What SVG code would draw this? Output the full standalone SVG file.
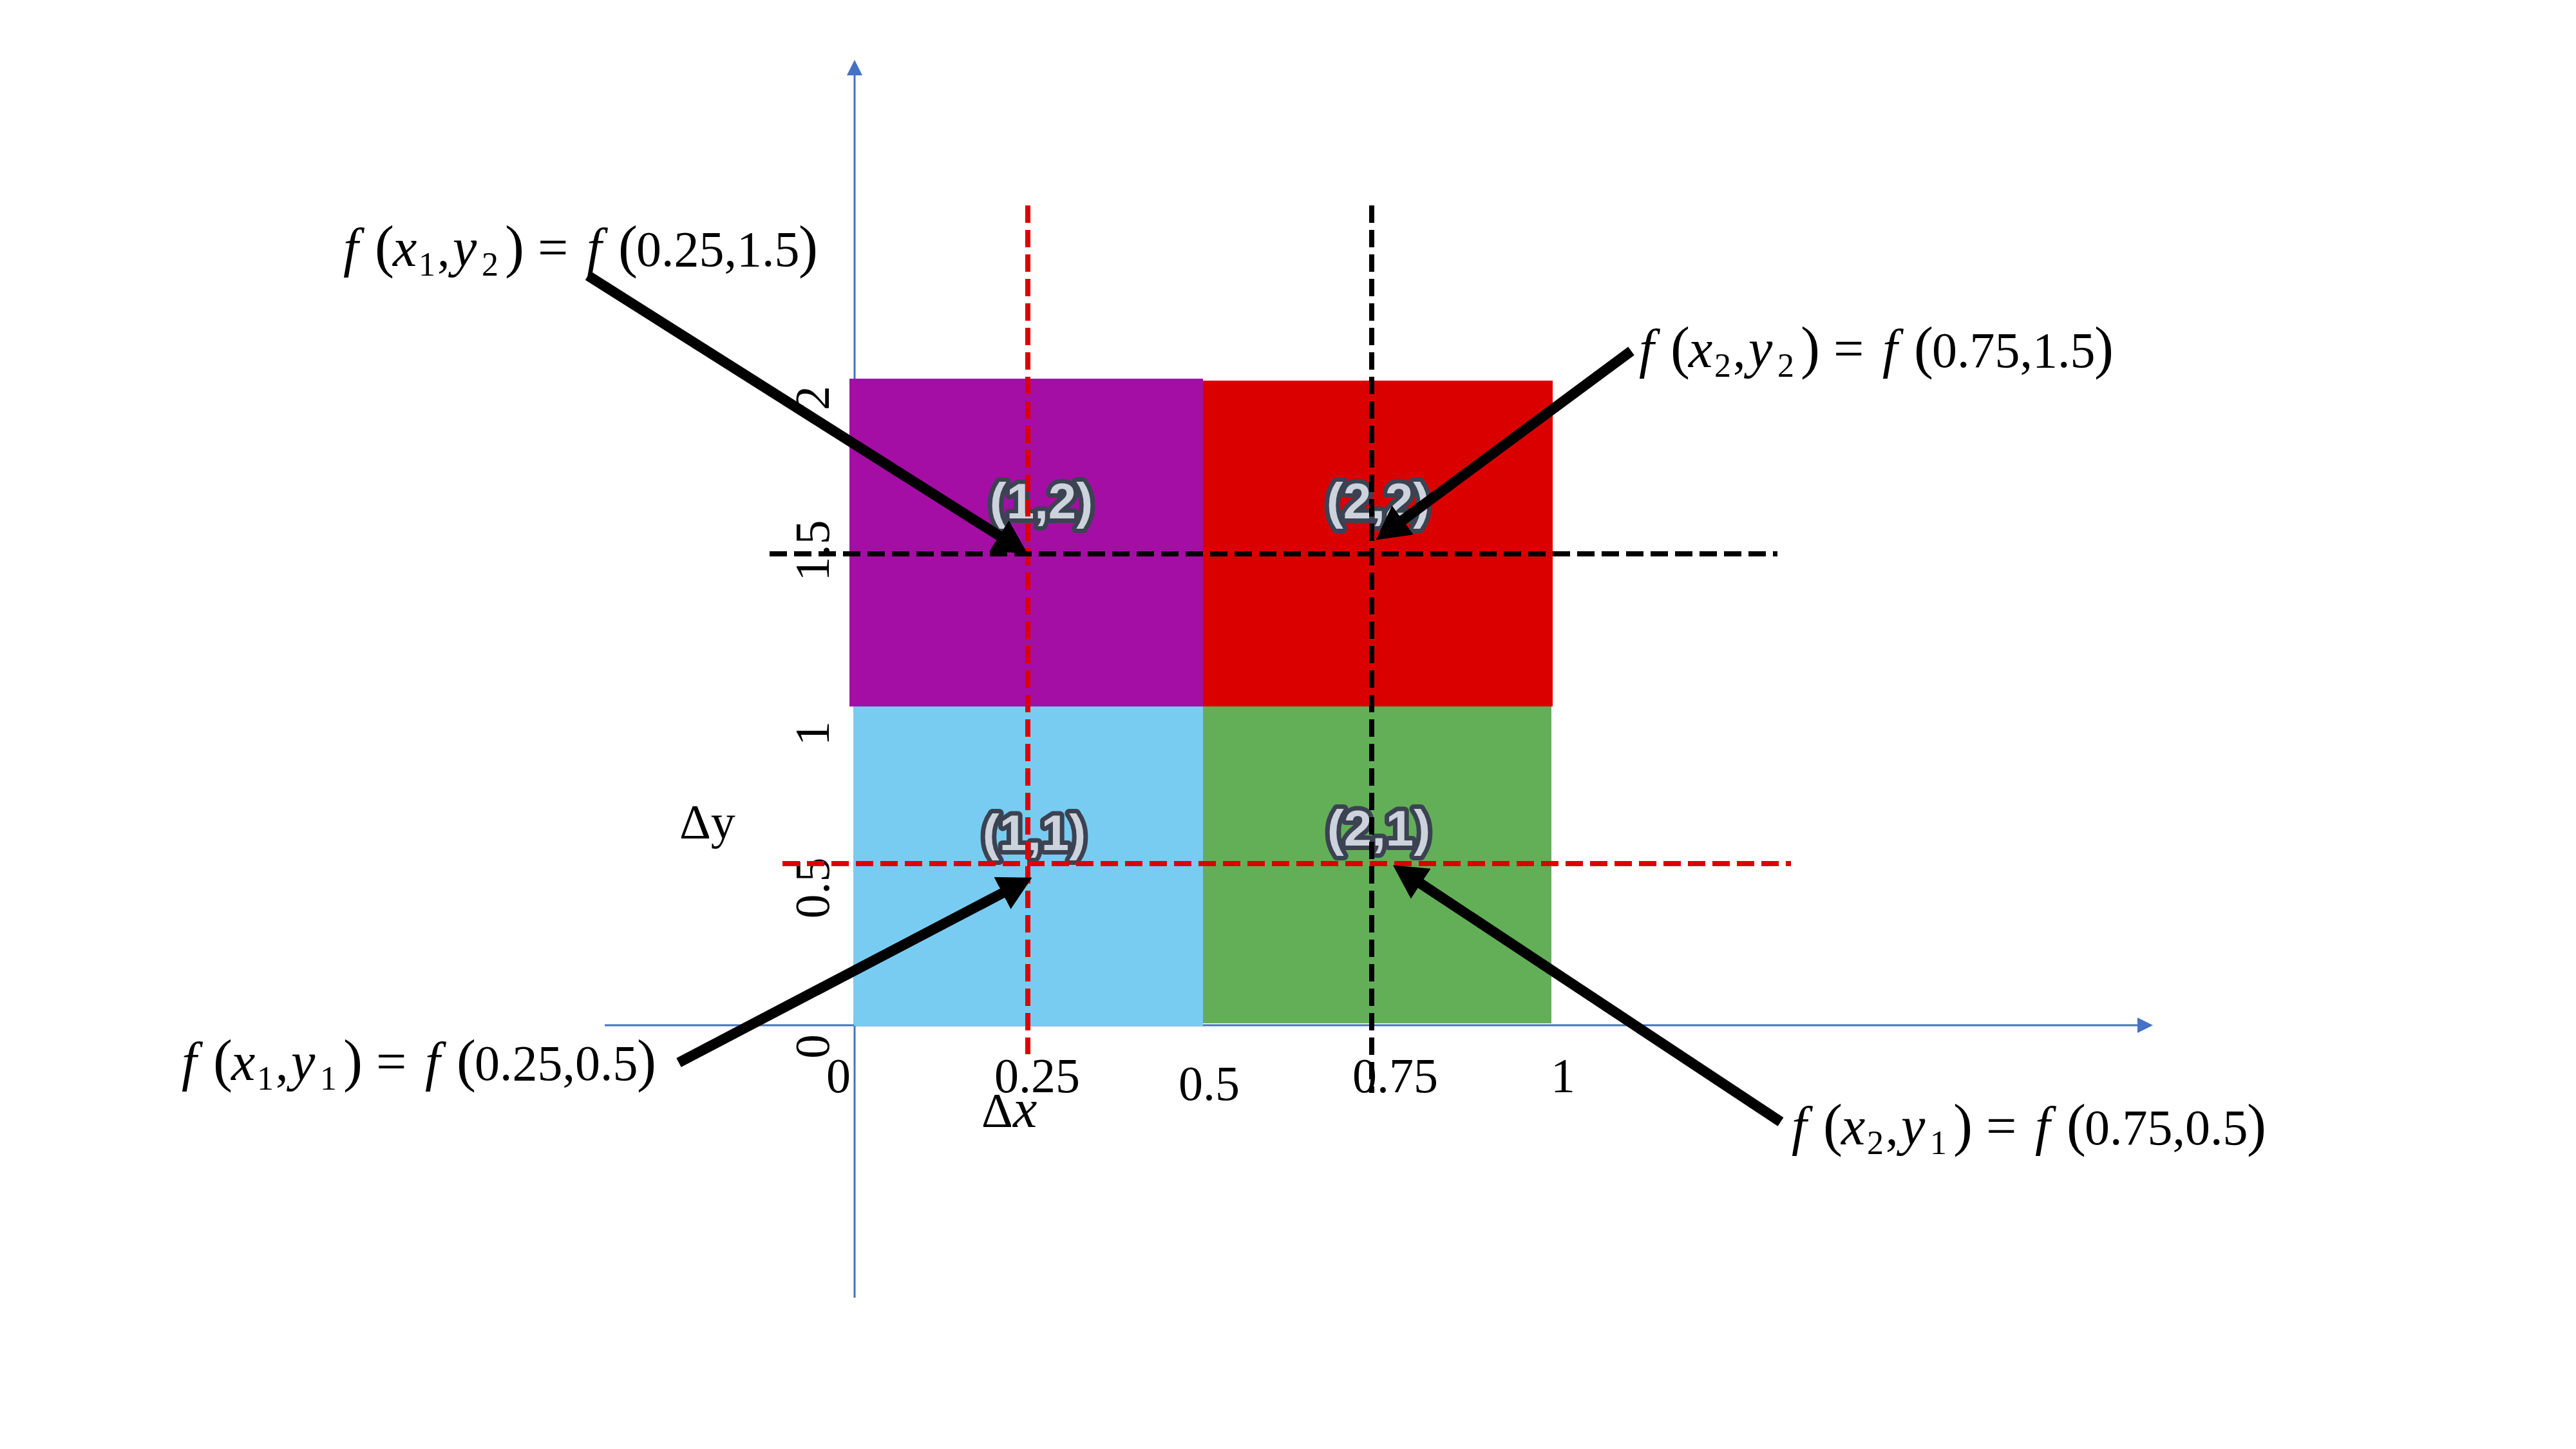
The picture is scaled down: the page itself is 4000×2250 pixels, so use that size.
<svg xmlns="http://www.w3.org/2000/svg" width="4000" height="2250" viewBox="0 0 4000 2250">
<defs>
<style>
.m{font-family:"Liberation Serif",serif;font-size:78px;fill:#000}
.i{font-style:italic;font-size:84px}
.p{font-size:90px}
.e{font-size:84px}
.s{font-size:52px}
.t{font-family:"Liberation Serif",serif;font-size:76px;fill:#000}
.c{font-family:"Liberation Sans",Arial,sans-serif;font-weight:bold;font-size:78px;text-anchor:middle;fill:#CDD3DC;stroke:#3B4352;stroke-width:14;stroke-linejoin:round;paint-order:stroke}
.ax{stroke:#4472C4;stroke-width:3;fill:none}
.dr{stroke:#DD0000;stroke-width:8;stroke-dasharray:27 11;fill:none}
.dk{stroke:#000;stroke-width:8;stroke-dasharray:27 11;fill:none}
.ar{stroke:#000;stroke-width:16;fill:none;marker-end:url(#ah)}
</style>
<marker id="ah" markerUnits="userSpaceOnUse" markerWidth="52" markerHeight="56" refX="4" refY="28" orient="auto" viewBox="0 0 52 56">
<path d="M0,0 L52,28 L0,56 Z" fill="#000"/>
</marker>
</defs>
<rect width="4000" height="2250" fill="#fff"/>

<g id="axes">
<line class="ax" x1="1327" y1="115" x2="1327" y2="2015"/>
<polygon points="1327,93 1315,117 1339,117" fill="#4472C4"/>
<line class="ax" x1="939" y1="1592" x2="3321" y2="1592"/>
<polygon points="3343,1592 3319,1580 3319,1604" fill="#4472C4"/>
</g>

<g id="cells">
<rect id="cell-1-2" x="1319" y="588" width="549" height="509" fill="#A50EA5"/>
<rect id="cell-2-2" x="1868" y="591" width="543" height="506" fill="#DB0000"/>
<rect id="cell-1-1" x="1326" y="1097" width="542" height="496" fill="#79CCF1"/>
<rect id="cell-2-1" x="1868" y="1097" width="541" height="492" fill="#63AF58"/>
</g>

<g id="cell-labels">
<text class="c" x="1617" y="805">(1,2)</text>
<text class="c" x="2140" y="805">(2,2)</text>
<text class="c" x="1606" y="1320">(1,1)</text>
<text class="c" x="2141" y="1313">(2,1)</text>
</g>

<g id="ticks">
<text class="t" x="1283" y="1696">0</text>
<text class="t" x="1544" y="1696">0.25</text>
<text class="t" x="1830" y="1708">0.5</text>
<text class="t" x="2100" y="1696">0.75</text>
<text class="t" x="2408" y="1696">1</text>
<text class="t" x="1287" y="1625" text-anchor="middle" transform="rotate(-90 1287 1625)">0</text>
<text class="t" x="1287" y="1379" text-anchor="middle" transform="rotate(-90 1287 1379)">0.5</text>
<text class="t" x="1287" y="1139" text-anchor="middle" transform="rotate(-90 1287 1139)">1</text>
<text class="t" x="1287" y="855" text-anchor="middle" transform="rotate(-90 1287 855)">1.5</text>
<text class="t" x="1287" y="618" text-anchor="middle" transform="rotate(-90 1287 618)">2</text>
<text class="t" x="1055" y="1302">Δy</text>
<text class="t" x="1524" y="1750">Δ<tspan class="i">x</tspan></text>
</g>

<g id="guides">
<line class="dr" x1="1596" y1="319" x2="1596" y2="1637"/>
<line class="dk" x1="2130" y1="319" x2="2130" y2="1697"/>
<line class="dk" x1="1195" y1="860" x2="2760" y2="860"/>
<line class="dr" x1="1215" y1="1341" x2="2781" y2="1341"/>
</g>

<g id="formula-x1y2">
<text class="m" y="413"><tspan class="i" x="533">f</tspan><tspan class="p" x="582">(</tspan><tspan class="i" x="610">x</tspan><tspan class="s" x="650" y="428">1</tspan><tspan x="679" y="413">,</tspan><tspan class="i" x="703">y</tspan><tspan class="s" x="748" y="428">2</tspan><tspan class="p" x="784" y="413">)</tspan><tspan class="e" x="835">=</tspan><tspan class="i" x="911">f</tspan><tspan class="p" x="960">(</tspan><tspan x="988">0.25,1.5</tspan><tspan class="p" x="1240">)</tspan></text>
</g>
<g id="formula-x2y2">
<text class="m" y="570"><tspan class="i" x="2545">f</tspan><tspan class="p" x="2594">(</tspan><tspan class="i" x="2622">x</tspan><tspan class="s" x="2662" y="585">2</tspan><tspan x="2691" y="570">,</tspan><tspan class="i" x="2715">y</tspan><tspan class="s" x="2760" y="585">2</tspan><tspan class="p" x="2796" y="570">)</tspan><tspan class="e" x="2847">=</tspan><tspan class="i" x="2923">f</tspan><tspan class="p" x="2972">(</tspan><tspan x="3000">0.75,1.5</tspan><tspan class="p" x="3252">)</tspan></text>
</g>
<g id="formula-x1y1">
<text class="m" y="1677"><tspan class="i" x="282">f</tspan><tspan class="p" x="331">(</tspan><tspan class="i" x="359">x</tspan><tspan class="s" x="399" y="1692">1</tspan><tspan x="428" y="1677">,</tspan><tspan class="i" x="452">y</tspan><tspan class="s" x="497" y="1692">1</tspan><tspan class="p" x="533" y="1677">)</tspan><tspan class="e" x="584">=</tspan><tspan class="i" x="660">f</tspan><tspan class="p" x="709">(</tspan><tspan x="737">0.25,0.5</tspan><tspan class="p" x="989">)</tspan></text>
</g>
<g id="formula-x2y1">
<text class="m" y="1777"><tspan class="i" x="2782">f</tspan><tspan class="p" x="2831">(</tspan><tspan class="i" x="2859">x</tspan><tspan class="s" x="2899" y="1792">2</tspan><tspan x="2928" y="1777">,</tspan><tspan class="i" x="2952">y</tspan><tspan class="s" x="2997" y="1792">1</tspan><tspan class="p" x="3033" y="1777">)</tspan><tspan class="e" x="3084">=</tspan><tspan class="i" x="3160">f</tspan><tspan class="p" x="3209">(</tspan><tspan x="3237">0.75,0.5</tspan><tspan class="p" x="3489">)</tspan></text>
</g>

<g id="connectors">
<line class="ar" x1="913" y1="428" x2="1555" y2="834"/>
<line class="ar" x1="2533" y1="545" x2="2175" y2="810"/>
<line class="ar" x1="1054" y1="1650" x2="1560" y2="1385"/>
<line class="ar" x1="2765" y1="1742" x2="2203" y2="1370"/>
</g>
</svg>
